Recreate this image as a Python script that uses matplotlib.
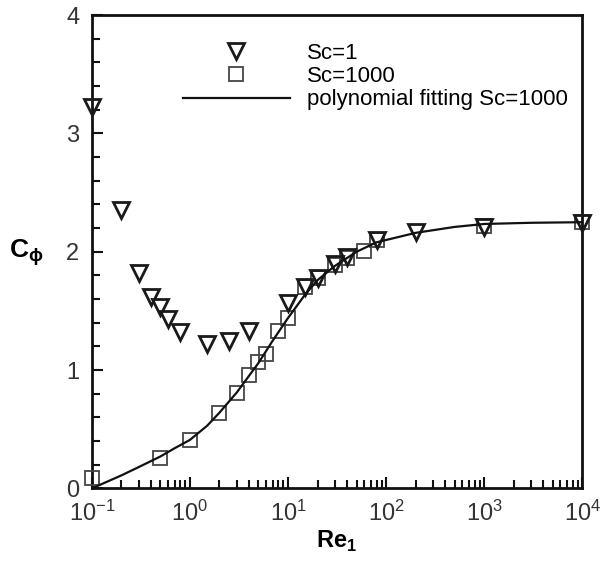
import numpy as np
import matplotlib
matplotlib.use("Agg")
import matplotlib.pyplot as plt
from matplotlib.ticker import LogLocator, MultipleLocator

plt.rcParams['font.family'] = ['Liberation Sans Narrow', 'Liberation Sans', 'DejaVu Sans']
plt.rcParams['mathtext.fontset'] = 'custom'
plt.rcParams['mathtext.rm'] = 'Liberation Sans'
plt.rcParams['mathtext.bf'] = 'Liberation Sans:bold'
plt.rcParams['axes.unicode_minus'] = False

# Sc=1 (triangles)
re_sc1 = [0.1, 0.2, 0.3, 0.4, 0.5, 0.6, 0.8, 1.5, 2.5, 4, 10, 15, 20, 30, 40, 80, 200, 1000, 10000]
c_sc1 = [3.22, 2.35, 1.82, 1.62, 1.53, 1.43, 1.32, 1.22, 1.25, 1.33, 1.57, 1.70, 1.78, 1.90, 1.96, 2.10, 2.17, 2.21, 2.24]

# Sc=1000 (squares)
re_sc1000 = [0.1, 0.5, 1, 2, 3, 4, 5, 6, 8, 10, 15, 20, 30, 40, 60, 80, 1000, 10000]
c_sc1000 = [0.09, 0.26, 0.41, 0.64, 0.81, 0.96, 1.07, 1.14, 1.33, 1.44, 1.70, 1.78, 1.89, 1.95, 2.01, 2.10, 2.22, 2.25]

# polynomial fitting curve
re_fit = [0.1, 0.2, 0.3, 0.5, 0.7, 1, 1.5, 2, 3, 5, 7, 10, 15, 20, 30, 50, 80, 200, 500, 1000, 3000, 10000]
c_fit = [0.0, 0.11, 0.18, 0.27, 0.34, 0.41, 0.53, 0.64, 0.81, 1.06, 1.25, 1.44, 1.64, 1.76, 1.88, 2.0, 2.08, 2.16, 2.21, 2.235, 2.245, 2.25]

fig = plt.figure(figsize=(6.04, 5.73), dpi=100)
ax = fig.add_axes([0.152, 0.1476, 0.812, 0.826])

ax.plot(re_sc1, c_sc1, 'v', ms=11, mfc='none', mec='#1a1a1a', mew=2.0,
        label='Sc=1', zorder=4, clip_on=False)
ax.plot(re_sc1000, c_sc1000, 's', ms=10, mfc='none', mec='#444444', mew=1.3,
        label='Sc=1000', zorder=3, clip_on=False)
ax.plot(re_fit, c_fit, '-', color='#111111', lw=1.6,
        label='polynomial fitting Sc=1000', zorder=5)

ax.set_xscale('log')
ax.set_xlim(0.1, 10000)
ax.set_ylim(0, 4)
ax.xaxis.set_major_locator(LogLocator(base=10, numticks=10))
ax.xaxis.set_minor_locator(LogLocator(base=10, subs=np.arange(2, 10), numticks=20))
ax.yaxis.set_major_locator(MultipleLocator(1))
ax.yaxis.set_minor_locator(MultipleLocator(0.2))

ax.tick_params(which='both', direction='in', top=False, right=False, width=1.5, colors='#111111')
ax.tick_params(which='major', length=8, labelsize=17, pad=9)
ax.tick_params(which='minor', length=5.5)
for lab in ax.get_xticklabels() + ax.get_yticklabels():
    lab.set_color('#333333')
for s in ax.spines.values():
    s.set_linewidth(2.0)
    s.set_color('#111111')

ax.set_xlabel(r'Re$_\mathbf{1}$', fontsize=17, fontweight='bold', labelpad=2)
fig.text(0.015, 0.56, r'C$_\mathregular{\phi}$', fontsize=19, fontweight='bold',
         ha='left', va='center')

ax.legend(loc='upper left', bbox_to_anchor=(0.303, 0.925), bbox_transform=fig.transFigure,
          frameon=False, fontsize=16, handlelength=4.8, handletextpad=0.8,
          labelspacing=0.1, borderpad=0, borderaxespad=0)

plt.savefig('out.png', dpi=100)
